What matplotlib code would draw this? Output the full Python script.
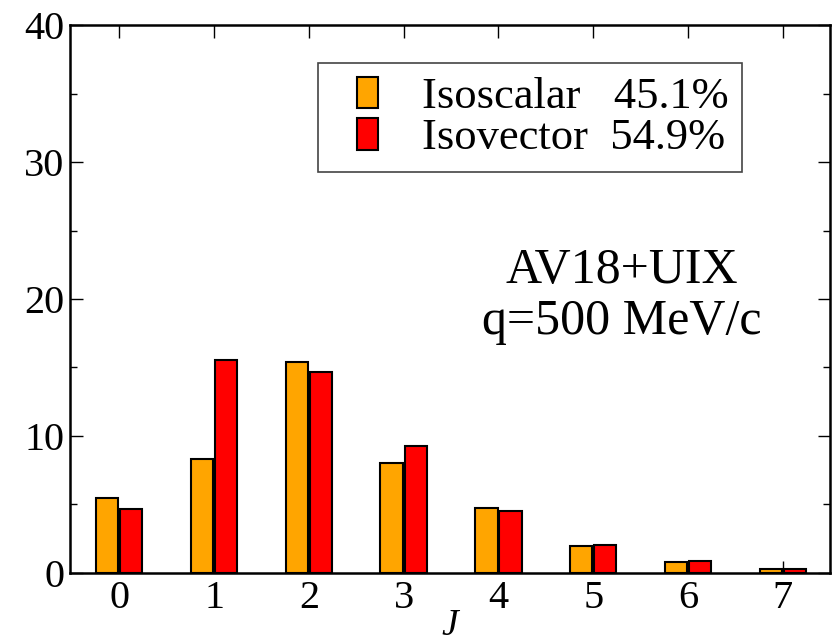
import matplotlib
matplotlib.use('Agg')
import matplotlib.pyplot as plt
from matplotlib.patches import Rectangle
from matplotlib.legend_handler import HandlerPatch
import numpy as np

plt.rcParams['font.family'] = ['Liberation Serif', 'DejaVu Serif']

# Werte
J = [0, 1, 2, 3, 4, 5, 6, 7]
isoscalar = [5.5, 8.3, 15.4, 8.05, 4.77, 1.95, 0.83, 0.3]
isovector = [4.65, 15.55, 14.65, 9.25, 4.55, 2.04, 0.85, 0.3]
labels = ['Isoscalar   45.1%', 'Isovector  54.9%']

fig = plt.figure(figsize=(8.4, 6.43), dpi=100)
ax = fig.add_axes([0.0833, 0.109, 0.905, 0.852])

x = np.array(J)
w = 0.235
b1 = ax.bar(x - 0.127, isoscalar, width=w, color='orange', edgecolor='black', linewidth=1.5)
b2 = ax.bar(x + 0.127, isovector, width=w, color='red', edgecolor='black', linewidth=1.5)

ax.set_xlim(-0.52, 7.5)
ax.set_ylim(0, 40)
ax.set_xticks(J)
ax.set_yticks([0, 10, 20, 30, 40])
ax.set_yticks([5, 15, 25, 35], minor=True)
ax.tick_params(which='both', direction='in', top=True, right=True, labelsize=29, width=1)
ax.tick_params(which='major', length=9)
ax.tick_params(which='minor', length=5)
ax.tick_params(axis='x', pad=5)
ax.tick_params(axis='y', pad=4)
for s in ax.spines.values():
    s.set_linewidth(1.8)

ax.set_xlabel('J', fontsize=27, style='italic', labelpad=-6)

ax.text(0.726, 0.505, 'AV18+UIX\nq=500 MeV/c', transform=ax.transAxes,
        ha='center', va='center', fontsize=36, linespacing=1.15)


# kleines Kästchen rechts im Handle-Bereich, damit links mehr Platz im Rahmen bleibt
def box_handle(legend, orig_handle, xdescent, ydescent, width, height, fontsize):
    bw = width * 0.45
    return Rectangle((width - bw - xdescent, -ydescent), bw, height)


leg = ax.legend([b1.patches[0], b2.patches[0]], labels,
                loc='upper right', bbox_to_anchor=(0.884, 0.93), fontsize=32,
                handlelength=1.05, handleheight=0.72, handletextpad=1.0,
                borderpad=0.3, labelspacing=0.02, fancybox=False,
                edgecolor='#444444', framealpha=1, borderaxespad=0,
                handler_map={Rectangle: HandlerPatch(patch_func=box_handle)})
leg.get_frame().set_linewidth(1.2)

fig.savefig('out.png', dpi=100)
